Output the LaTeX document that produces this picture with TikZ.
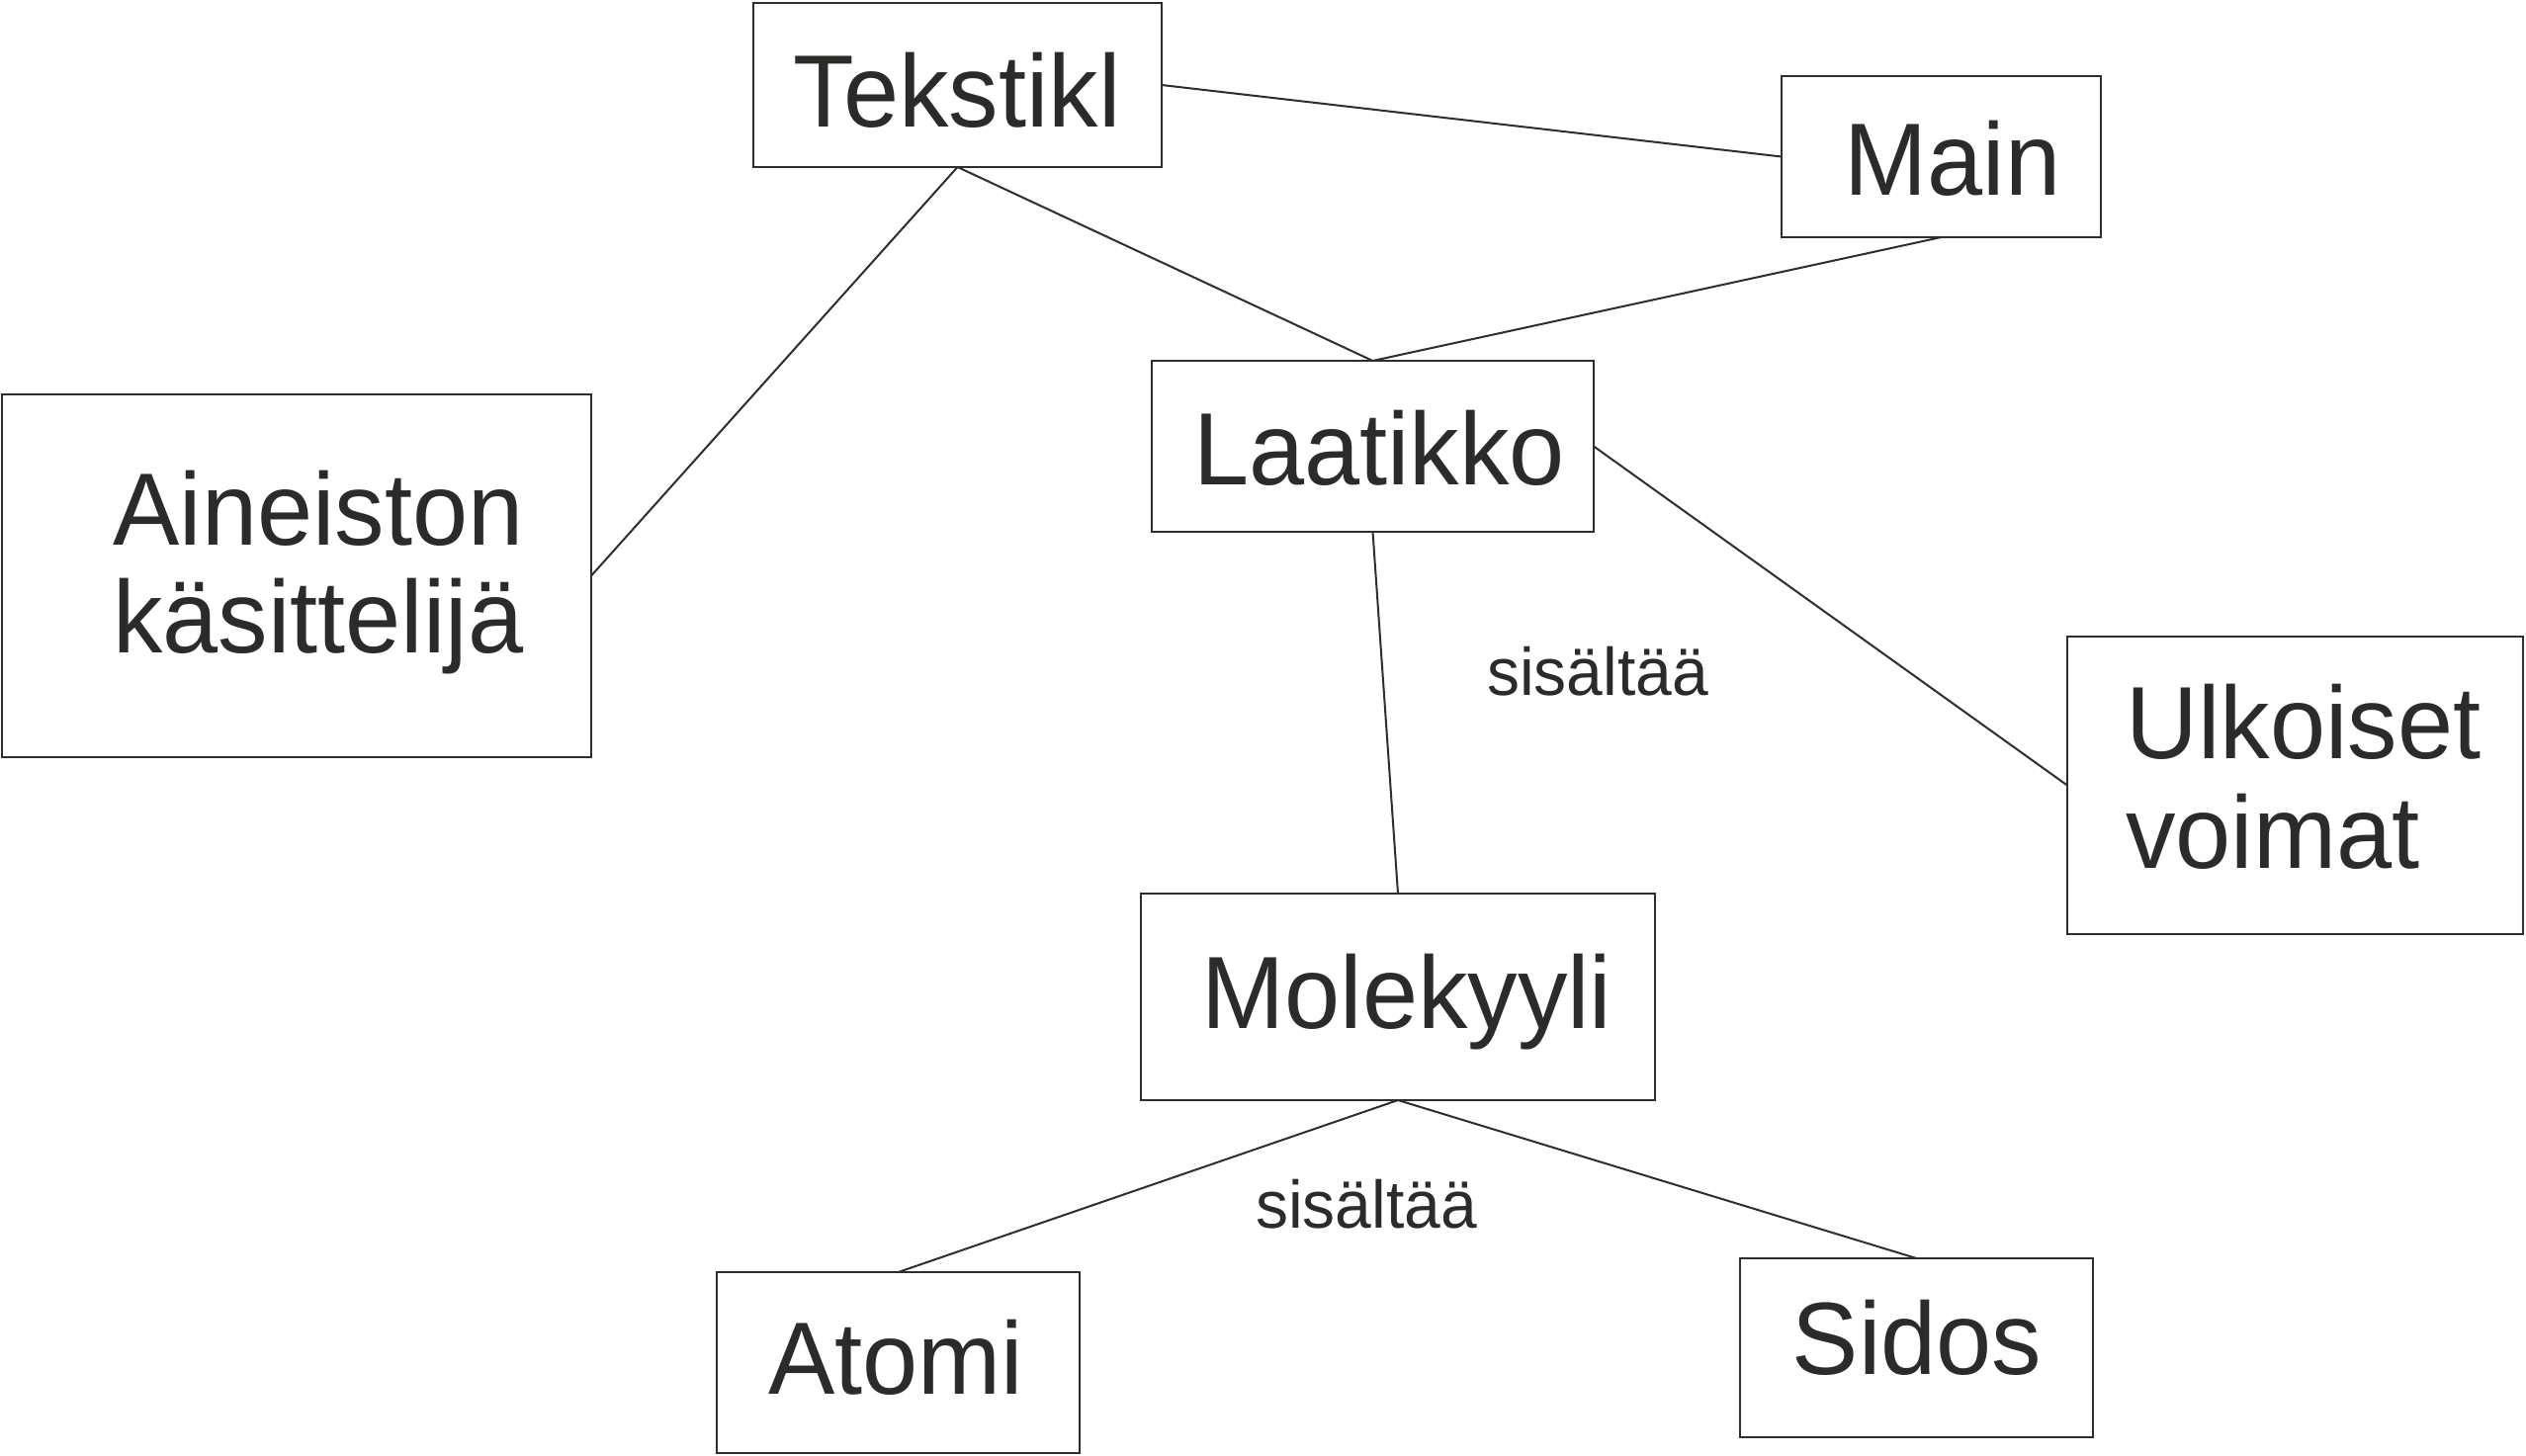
\documentclass[tikz,border=0pt]{standalone}
\usepackage{fontspec}
\setmainfont{Liberation Sans}[FakeStretch=0.97]
\definecolor{ink}{HTML}{2B2B29}
\definecolor{edge}{HTML}{2E2E2E}
\begin{document}
\begin{tikzpicture}[x=0.5pt,y=-0.5pt,
  box/.style={draw=edge,line width=1.1pt,fill=white,inner sep=0pt,outer sep=0pt,rectangle},
  lbl/.style={text=ink,font=\fontsize{52}{55}\selectfont,anchor=base,inner sep=0pt},
  lbl2/.style={text=ink,font=\fontsize{52}{55}\selectfont,align=left,anchor=base west,inner sep=0pt},
  small/.style={text=ink,font=\fontsize{34}{40}\selectfont,anchor=base,inner sep=0pt},
  conn/.style={draw=edge,line width=1pt}]
\useasboundingbox[fill=white] (0,0) rectangle (2555,1473);
% boxes (sizes in pt = px/2)
\node[box,minimum width=206.5pt,minimum height=83pt] (tek) at (968.5,86) {};
\node[box,minimum width=161.5pt,minimum height=81.5pt] (main) at (1963.5,158.5) {};
\node[box,minimum width=298pt,minimum height=183.5pt] (ain) at (300,582.5) {};
\node[box,minimum width=223.5pt,minimum height=86.5pt] (laa) at (1388.5,451.5) {};
\node[box,minimum width=230.5pt,minimum height=150.5pt] (ulk) at (2321.5,794.5) {};
\node[box,minimum width=260pt,minimum height=104.5pt] (mol) at (1414,1008.5) {};
\node[box,minimum width=183.5pt,minimum height=91.5pt] (ato) at (908.5,1378.5) {};
\node[box,minimum width=178.5pt,minimum height=90.5pt] (sid) at (1938.5,1363.5) {};
% connectors
\draw[conn] (tek.east) -- (main.west);
\draw[conn] (tek.south) -- (laa.north);
\draw[conn] (tek.south) -- (ain.east);
\draw[conn] (main.south) -- (laa.north);
\draw[conn] (laa.south) -- (mol.north);
\draw[conn] (laa.east) -- (ulk.west);
\draw[conn] (mol.south) -- (ato.north);
\draw[conn] (mol.south) -- (sid.north);
% texts
\node[lbl] (tekt) at (968,128) {Tekstikl};
\node[lbl] (maint) at (1975,197) {Main};
\node[lbl] (laat) at (1395,490) {Laatikko};
\node[lbl] (molt) at (1423,1040) {Molekyyli};
\node[lbl] (atot) at (906,1410) {Atomi};
\node[lbl] (sidt) at (1939,1390) {Sidos};
\node[lbl2] (aint1) at (114,551) {Aineiston};
\node[lbl2] (aint2) at (114,660) {käsittelijä};
\node[lbl2] (ulkt1) at (2150,767) {Ulkoiset};
\node[lbl2] (ulkt2) at (2150,878) {voimat};
\node[small] (s1) at (1616,703) {sisältää};
\node[small] (s2) at (1382,1242) {sisältää};
\end{tikzpicture}
\end{document}
